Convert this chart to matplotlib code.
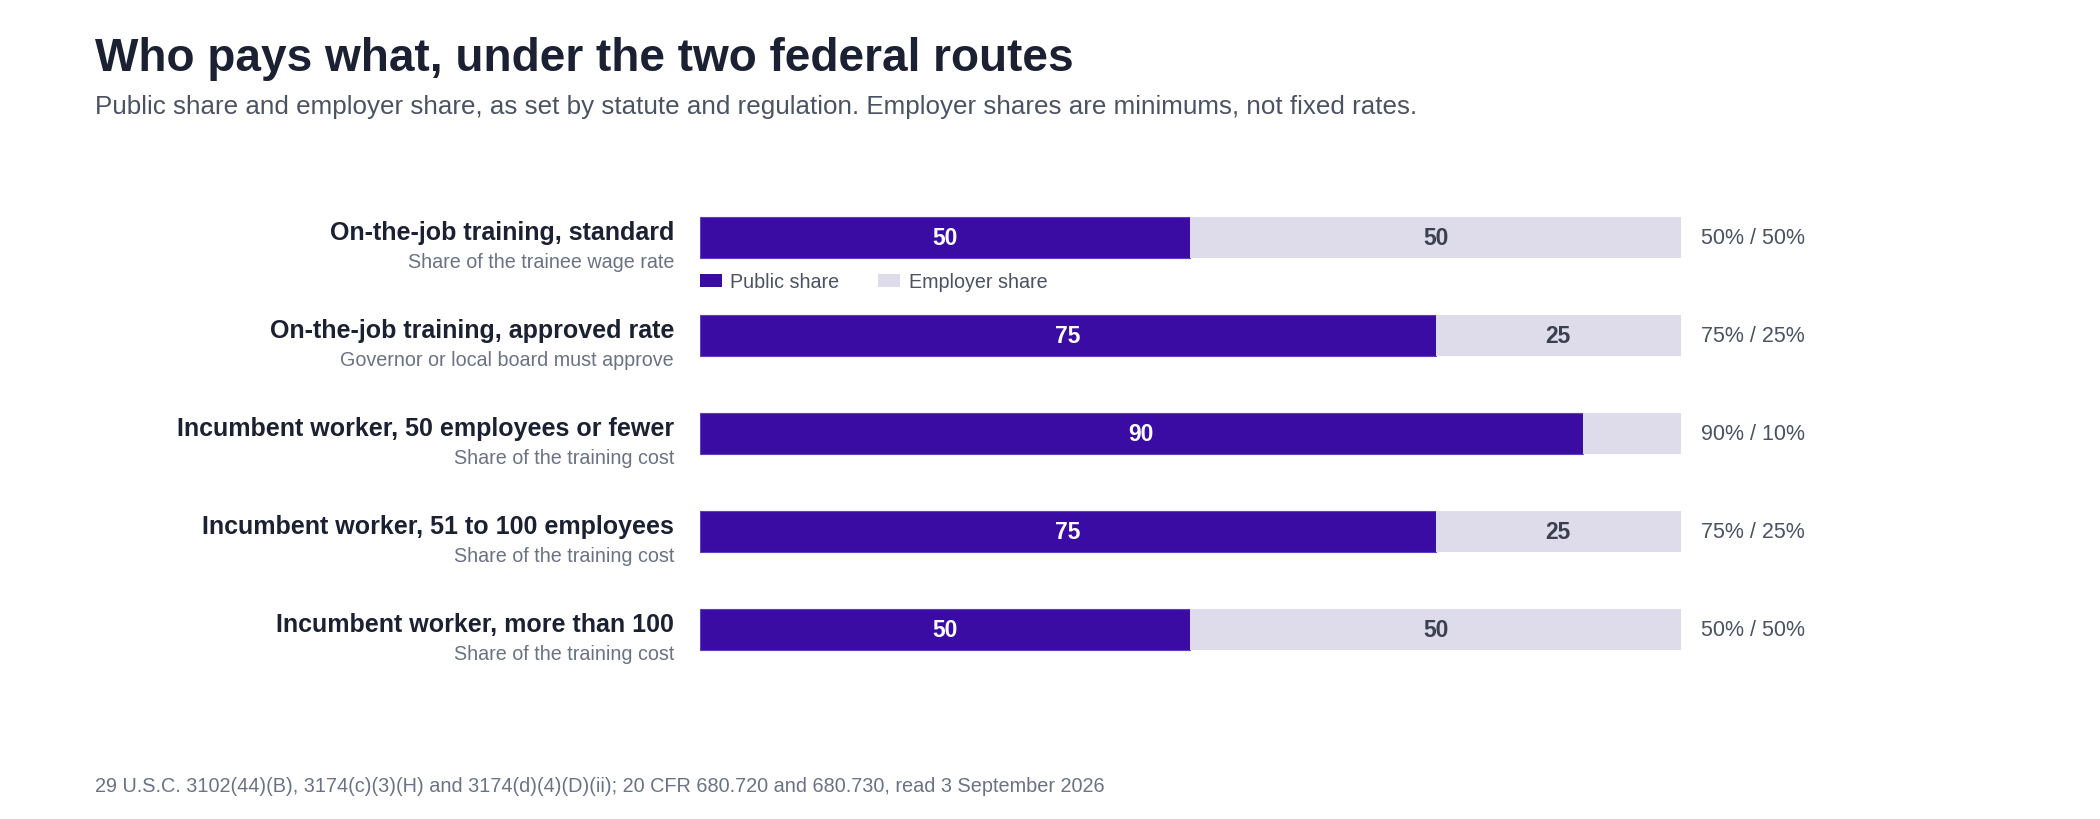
import matplotlib
matplotlib.use("Agg")
import matplotlib.pyplot as plt
from matplotlib.patches import Patch

plt.rcParams['font.family'] = ['Liberation Sans', 'DejaVu Sans']

# data
categories = [
    "On-the-job training, standard",
    "On-the-job training, approved rate",
    "Incumbent worker, 50 employees or fewer",
    "Incumbent worker, 51 to 100 employees",
    "Incumbent worker, more than 100",
]
sublabels = [
    "Share of the trainee wage rate",
    "Governor or local board must approve",
    "Share of the training cost",
    "Share of the training cost",
    "Share of the training cost",
]
public_share = [50, 75, 90, 75, 50]
employer_share = [50, 25, 10, 25, 50]

# colours
PUBLIC = "#3a0ca3"
EMPLOYER = "#dedcea"
TITLE_C = "#1b2132"
SUB_C = "#4b5263"
MUTED = "#6b7285"

fig = plt.figure(figsize=(21, 8.2), dpi=100)
ax = fig.add_axes([0.3333, 0.171, 0.4671, 0.5976])

y = list(range(len(categories)))
ax.barh(y, public_share, height=0.42, color=PUBLIC, edgecolor="#5d3fc6", linewidth=0.8)
ax.barh(y, employer_share, left=public_share, height=0.42, color=EMPLOYER, linewidth=0)

ax.set_xlim(0, 100)
ax.set_ylim(len(categories) - 0.5, -0.5)
ax.axis("off")

for i in y:
    p, e = public_share[i], employer_share[i]
    # value labels inside the segments (skip the very small ones)
    if p >= 15:
        ax.text(p / 2, i, str(p), ha="center", va="center", color="white",
                fontsize=16.5, fontweight="bold")
    if e >= 15:
        ax.text(p + e / 2, i, str(e), ha="center", va="center", color="#3b3f4f",
                fontsize=16.5, fontweight="bold")
    # category labels on the left
    ax.annotate(categories[i], xy=(0, i), xytext=(-26, -1.5), textcoords="offset pixels",
                ha="right", va="baseline", fontsize=18, fontweight="bold", color=TITLE_C)
    ax.annotate(sublabels[i], xy=(0, i), xytext=(-26, -29.5), textcoords="offset pixels",
                ha="right", va="baseline", fontsize=14.2, color=MUTED)
    # split on the right
    ax.annotate(f"{p}% / {e}%", xy=(100, i), xytext=(20, 0), textcoords="offset pixels",
                ha="left", va="center", fontsize=15.5, color=SUB_C)

handles = [Patch(facecolor=PUBLIC, edgecolor="none", label="Public share"),
           Patch(facecolor=EMPLOYER, edgecolor="none", label="Employer share")]
leg = ax.legend(handles=handles, loc="center left", bbox_to_anchor=(0, 0.81),
                ncol=2, frameon=False, fontsize=14.2, borderaxespad=0, borderpad=0,
                handlelength=1.1, handleheight=0.7, handletextpad=0.45,
                columnspacing=1.95)
for t in leg.get_texts():
    t.set_color(SUB_C)

fig.text(0.0452, 1 - 71 / 820, "Who pays what, under the two federal routes",
         fontsize=33.1, fontweight="bold", color=TITLE_C, va="baseline")
fig.text(0.0452, 1 - 114 / 820,
         "Public share and employer share, as set by statute and regulation. "
         "Employer shares are minimums, not fixed rates.",
         fontsize=18.7, color=SUB_C, va="baseline")
fig.text(0.0452, 1 - 792 / 820,
         "29 U.S.C. 3102(44)(B), 3174(c)(3)(H) and 3174(d)(4)(D)(ii); "
         "20 CFR 680.720 and 680.730, read 3 September 2026",
         fontsize=14.35, color=MUTED, va="baseline")

fig.savefig("out.png", dpi=100, facecolor="white")
